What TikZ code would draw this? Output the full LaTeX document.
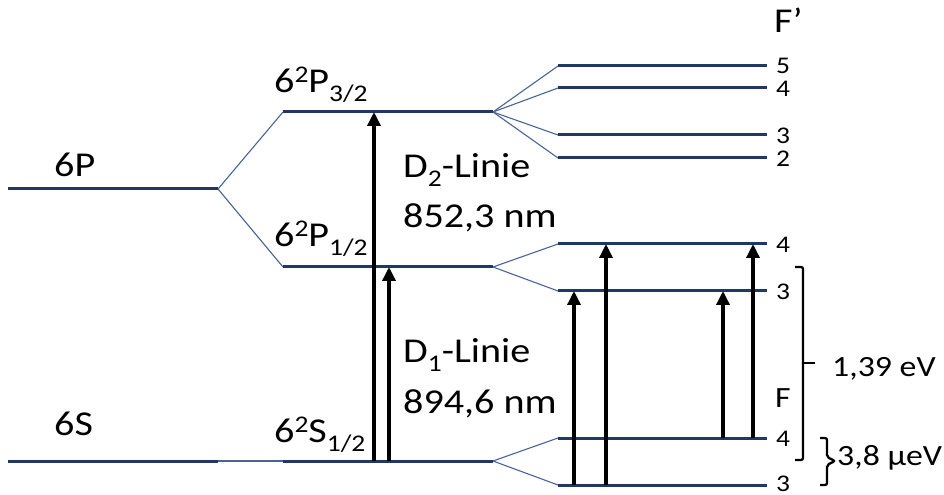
\documentclass[tikz,border=0pt]{standalone}
\usepackage{fontspec}
\setmainfont{Carlito}[FakeStretch=1.15]
\usetikzlibrary{arrows.meta}
\definecolor{navy}{RGB}{32,56,100}
\definecolor{fanblue}{RGB}{72,100,152}
% raised / lowered indices in the term symbols
\newcommand\hsup[1]{\raisebox{10bp}{\fontsize{24}{24}\selectfont #1}}
\newcommand\hsub[1]{\raisebox{-9bp}{\fontsize{24}{24}\selectfont #1}}
\begin{document}
\begin{tikzpicture}[x=1bp,y=-1bp,
  level/.style={draw=navy,line width=3bp},
  fan/.style={draw=fanblue,line width=1.1bp},
  trans/.style={draw=black,line width=3.4bp,-{Triangle[width=13bp,length=14bp]}},
  big/.style={font=\fontsize{35}{40}\selectfont,inner sep=0pt,anchor=base west},
  mid/.style={font=\fontsize{29.5}{34}\selectfont,inner sep=0pt,anchor=base west},
  fnum/.style={font=\fontsize{24}{26}\selectfont,inner sep=0pt,anchor=base west},
  brk/.style={draw=black,line width=2.3bp,rounded corners=2bp}]
\useasboundingbox (0,0) rectangle (944,495);

% fine-structure levels
\coordinate (P6L) at (8,189);   \coordinate (P6R) at (218,189);
\coordinate (S6L) at (8,461);   \coordinate (S6R) at (218,461);
\coordinate (P32L) at (283,112); \coordinate (P32R) at (493,112);
\coordinate (P12L) at (283,267); \coordinate (P12R) at (493,267);
\coordinate (S12L) at (283,461); \coordinate (S12R) at (493,461);
% hyperfine levels
\coordinate (A5L) at (558,66);  \coordinate (A5R) at (767,66);
\coordinate (A4L) at (558,88);  \coordinate (A4R) at (767,88);
\coordinate (A3L) at (558,135); \coordinate (A3R) at (767,135);
\coordinate (A2L) at (558,158); \coordinate (A2R) at (767,158);
\coordinate (B4L) at (558,244); \coordinate (B4R) at (767,244);
\coordinate (B3L) at (558,291); \coordinate (B3R) at (767,291);
\coordinate (C4L) at (558,438); \coordinate (C4R) at (767,438);
\coordinate (C3L) at (558,485); \coordinate (C3R) at (767,485);

% splitting lines
\draw[fan] (P6R) -- (P32L);
\draw[fan] (P6R) -- (P12L);
\draw[fan] (S6R) -- (S12L);
\foreach \t in {A5L,A4L,A3L,A2L} \draw[fan] (P32R) -- (\t);
\foreach \t in {B4L,B3L} \draw[fan] (P12R) -- (\t);
\foreach \t in {C4L,C3L} \draw[fan] (S12R) -- (\t);

% level lines
\foreach \a/\b in {P6L/P6R,S6L/S6R,P32L/P32R,P12L/P12R,S12L/S12R,
  A5L/A5R,A4L/A4R,A3L/A3R,A2L/A2R,B4L/B4R,B3L/B3R,C4L/C4R,C3L/C3R}
  \draw[level] (\a) -- (\b);

% transitions
\coordinate (xa) at (374,0); \coordinate (xb) at (389,0);
\coordinate (xc) at (574,0); \coordinate (xd) at (606,0);
\coordinate (xe) at (723,0); \coordinate (xf) at (753,0);
\draw[trans] (xa |- S12L) -- (xa |- P32L);
\draw[trans] (xb |- S12L) -- (xb |- P12L);
\draw[trans] (xc |- C3L) -- (xc |- B3L);
\draw[trans] (xd |- C3L) -- (xd |- B4L);
\draw[trans] (xe |- C4L) -- (xe |- B3L);
\draw[trans] (xf |- C4L) -- (xf |- B4L);

% level names
\node[big] (n6P) at (54,177) {6P};
\node[big] (n6S) at (54,435) {6S};
\node[big] (nP32) at (274,93) {6\hsup{2}P\hsub{3/2}};
\node[big] (nP12) at (274,247) {6\hsup{2}P\hsub{1/2}};
\node[big] (nS12) at (274,442) {6\hsup{2}S\hsub{1/2}};
\node[big] (nD2) at (403,178) {D\hsub{2}-Linie};
\node[big] (nD2w) at (403,228) {852,3 nm};
\node[big] (nD1) at (403,363) {D\hsub{1}-Linie};
\node[big] (nD1w) at (403,413) {894,6 nm};

% quantum numbers
\node[big] (nFp) at (774,33) {F’};
\node[fnum] (q5) at (776,74) {5};
\node[fnum] (q4) at (776,96.5) {4};
\node[fnum] (q3) at (776,143.5) {3};
\node[fnum] (q2) at (776,166.5) {2};
\node[fnum] (r4) at (776,252.5) {4};
\node[fnum] (r3) at (776,299.5) {3};
\node[fnum] (s4) at (776,446.5) {4};
\node[fnum] (s3) at (776,491) {3};
\node[mid] (nF) at (775,407) {F};

% energy brackets
\draw[brk] (795,267) -- (803,267) -- (803,460) -- (795,460);
\draw[brk] (803,363) -- (815,363);
\node[mid] (e1) at (832,377) {1,39 eV};
\draw[brk] (820,438) -- (827,438) -- (827,457) -- (835,461) -- (827,465) -- (827,485) -- (820,485);
\node[mid] (e2) at (837,465) {3,8 µeV};
\end{tikzpicture}
\end{document}
